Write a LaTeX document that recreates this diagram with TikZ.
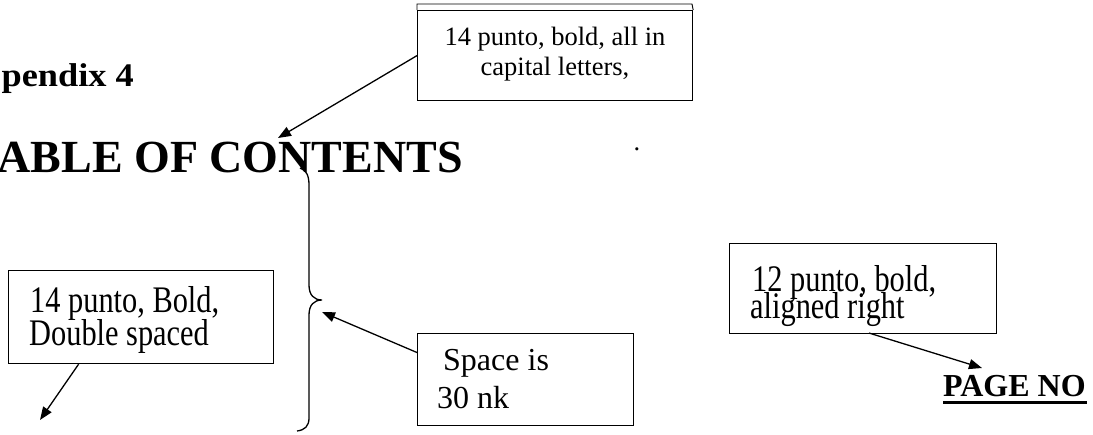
\documentclass[tikz,border=0pt]{standalone}
\usepackage{fontspec}
\setmainfont{Liberation Serif}
\newfontfamily\tallserif[FakeStretch=0.81]{Liberation Serif}
\newfontfamily\wideserif[FakeStretch=1.1]{Liberation Serif}
\usetikzlibrary{arrows.meta}
\begin{document}
\begin{tikzpicture}[x=1pt,y=-1pt,
  box/.style={draw, line width=1.2pt, inner sep=0pt, anchor=north west},
  txt/.style={anchor=base west, inner sep=0pt, font=\fontsize{32}{34}\selectfont},
  talltxt/.style={anchor=base west, inner sep=0pt, font=\tallserif\fontsize{37.5}{38}\selectfont},
  small/.style={anchor=base, inner sep=0pt, font=\fontsize{26.5}{30}\selectfont},
  arr/.style={line width=1.3pt, -{Triangle[length=13pt,width=10pt]}},
  bracepath/.style={line width=1.3pt}]
\useasboundingbox (0,0) rectangle (1093,434);

% headings
\node[anchor=base east, inner sep=0pt, font=\wideserif\fontsize{33}{36}\selectfont\bfseries] (app) at (134,86) {pendix 4};
\node[anchor=base east, inner sep=0pt, font=\fontsize{46}{50}\selectfont\bfseries] (toc) at (463,172) {ABLE OF CONTENTS};
\node[anchor=base west, inner sep=0pt, font=\fontsize{32}{34}\selectfont\bfseries] (page) at (943,396) {PAGE NO};
\draw[line width=3pt] (page.base west) ++(0,6) -- ++(144,0);
\node[small] (dot) at (637,150) {.};

% top box (double top edge)
\node[box, minimum width=275pt, minimum height=90pt] (topbox) at (417,10) {};
\draw[line width=0.9pt] (topbox.north west) -- ++(0,-6) -- ++(275,0) -- (topbox.north east);
\node[small] (t1) at (555,45) {14 punto, bold, all in};
\node[small] (t2) at (555,75) {capital letters,};

% left box
\node[box, minimum width=265pt, minimum height=93pt] (leftbox) at (8,270) {};
\node[talltxt] (l1) at (30,312) {14 punto, Bold,};
\node[talltxt] (l2) at (29,345) {Double spaced};

% space box
\node[box, minimum width=216pt, minimum height=92pt] (spacebox) at (417,333) {};
\node[txt] (s1) at (443,370) {Space is};
\node[txt] (s2) at (437,408) {30 nk};

% right box
\node[box, minimum width=267pt, minimum height=90pt] (rbox) at (729,243) {};
\node[talltxt] (r1) at (752,291) {12 punto, bold,};
\node[talltxt] (r2) at (750,318) {aligned right};

% brace
\coordinate (btop) at (300,168);
\coordinate (btip) at (322,300);
\coordinate (bbot) at (297,431);
\draw[bracepath] (btop) .. controls (306,170) and (309,175) .. (309,185) -- (309,285)
  .. controls (309,295) and (314,300) .. (btip)
  .. controls (314,300) and (309,305) .. (309,315) -- (309,418)
  .. controls (309,426) and (305,430) .. (bbot);

% arrow targets
\coordinate (tocpt) at (278,138);
\coordinate (bracept) at (322,312);
\coordinate (leftpt) at (40,420);
\coordinate (pagept) at (982,368);

% arrows
\draw[arr] (topbox.west) -- (tocpt);
\draw[arr] (spacebox.166) -- (bracept);
\draw[arr] (leftbox.217) -- (leftpt);
\draw[arr, shorten <=-4pt] (rbox.282) -- (pagept);
\end{tikzpicture}
\end{document}
